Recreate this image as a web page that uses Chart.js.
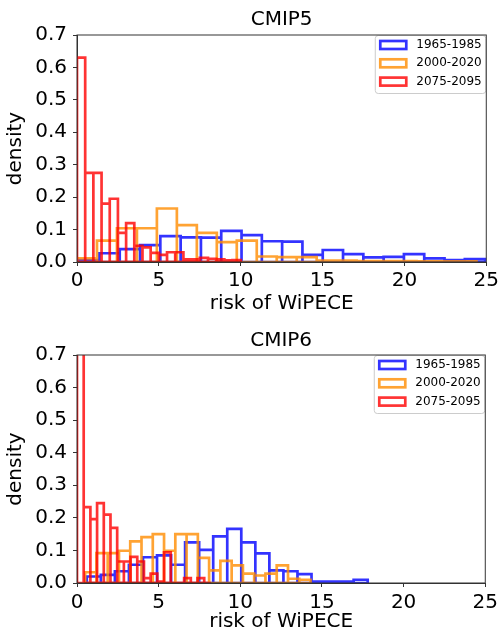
<!DOCTYPE html>
<html>
<head>
<meta charset="utf-8">
<script src="https://cdn.jsdelivr.net/npm/chart.js@4"></script>
<style>
  html, body { margin: 0; padding: 0; background: #fff; }
  .panel { width: 502px; height: 317px; }
  canvas { display: block; }
</style>
</head>
<body>
<div class="panel"><canvas id="cmip5" width="502" height="317"></canvas></div>
<div class="panel"><canvas id="cmip6" width="502" height="317"></canvas></div>
<script>
"use strict";

// periodos y colores de la leyenda
const periods = ['1965-1985', '2000-2020', '2075-2095'];
const colors = ['rgba(0, 0, 255, 0.8)', 'rgba(255, 140, 0, 0.8)', 'rgba(255, 0, 0, 0.8)'];
const xTicks = [0, 5, 10, 15, 20, 25];

// CMIP5 - bordes de bins y densidades
const cmip5BlueEdges = [0.13, 1.37, 2.61, 3.85, 5.09, 6.33, 7.57, 8.81, 10.05, 11.29, 12.53, 13.77, 15.01, 16.25, 17.49, 18.73, 19.97, 21.21, 22.45, 23.69, 24.93, 26.17];
const cmip5Blue = [0.006, 0.027, 0.04, 0.052, 0.08, 0.076, 0.075, 0.096, 0.083, 0.064, 0.063, 0.022, 0.037, 0.024, 0.014, 0.016, 0.024, 0.011, 0.006, 0.009, 0.009];
const cmip5OrangeEdges = [0, 1.22, 2.44, 3.66, 4.88, 6.1, 7.32, 8.54, 9.76, 10.98, 12.2, 13.42, 14.64, 15.86, 17.08, 18.3, 19.52, 20.74, 21.96, 23.18, 24.4];
const cmip5Orange = [0.011, 0.066, 0.104, 0.104, 0.165, 0.114, 0.09, 0.061, 0.066, 0.017, 0.015, 0.015, 0.004, 0.004, 0.003, 0.003, 0.003, 0.002, 0.002, 0.002];
const cmip5RedEdges = [0, 0.5, 1, 1.5, 2, 2.5, 3, 3.5, 4, 4.5, 5, 5.5, 6, 6.5, 7, 7.5, 8, 8.5, 9, 9.5, 10];
const cmip5Red = [0.63, 0.275, 0.275, 0.18, 0.195, 0.09, 0.12, 0.05, 0.045, 0.028, 0.022, 0.03, 0.03, 0.008, 0.008, 0.013, 0.01, 0.008, 0.005, 0.006];

// CMIP6
const cmip6BlueEdges = [0.6, 1.46, 2.32, 3.18, 4.04, 4.9, 5.76, 6.62, 7.48, 8.34, 9.2, 10.06, 10.92, 11.78, 12.64, 13.5, 14.36, 15.22, 16.08, 16.94, 17.8];
const cmip6Blue = [0.02, 0.025, 0.036, 0.056, 0.079, 0.085, 0.056, 0.125, 0.102, 0.143, 0.166, 0.125, 0.091, 0.039, 0.036, 0.027, 0.004, 0.004, 0.004, 0.01];
const cmip6OrangeEdges = [0.5, 1.19, 1.88, 2.57, 3.26, 3.95, 4.64, 5.33, 6.02, 6.71, 7.4, 8.09, 8.78, 9.47, 10.16, 10.85, 11.54, 12.23, 12.92, 13.61, 14.3];
const cmip6Orange = [0.033, 0.092, 0.092, 0.099, 0.128, 0.141, 0.15, 0.099, 0.15, 0.15, 0.077, 0.039, 0.068, 0.054, 0.029, 0.023, 0.029, 0.054, 0.013, 0.01];
const cmip6RedEdges = [0, 0.41, 0.82, 1.23, 1.64, 2.05, 2.46, 2.87, 3.28, 3.69, 4.1, 4.51, 4.92, 5.33, 5.74, 6.15, 6.56, 6.97, 7.38, 7.79, 8.2];
const cmip6Red = [0.9, 0.233, 0.196, 0.245, 0.21, 0.169, 0.066, 0.066, 0.08, 0.066, 0.015, 0.029, 0.004, 0.094, 0, 0, 0.015, 0, 0.015, 0];

Chart.defaults.font.family = "'DejaVu Sans', sans-serif";
Chart.defaults.color = '#000';
Chart.defaults.animation = false;

// contorno de histograma (barras sin relleno) como polilinea
function histPath(edges, dens) {
    const pts = [];
    for (let i = 0; i < dens.length; i++) {
        pts.push({ x: edges[i], y: 0 }, { x: edges[i], y: dens[i] },
                 { x: edges[i + 1], y: dens[i] }, { x: edges[i + 1], y: 0 });
    }
    pts.push({ x: edges[0], y: 0 });
    return pts;
}

// leyenda en recuadro + marco de ejes
const boxLegend = {
    id: 'boxLegend',
    afterDatasetsDraw(chart) {
        const { ctx, chartArea: a } = chart;
        const w = 111, h = 58;
        const left = a.right - w, top = a.top;
        ctx.save();
        ctx.beginPath();
        ctx.roundRect(left, top + 0.5, w - 0.5, h, 3);
        ctx.fillStyle = 'rgba(255,255,255,0.8)';
        ctx.fill();
        ctx.strokeStyle = '#cccccc';
        ctx.lineWidth = 1;
        ctx.stroke();
        chart.data.datasets.forEach((ds, i) => {
            const cy = top + 10 + i * 18.3;
            ctx.strokeStyle = ds.borderColor;
            ctx.lineWidth = 2.7;
            ctx.strokeRect(left + 5, cy - 4, 26, 8);
            ctx.fillStyle = '#000';
            ctx.font = "12px 'DejaVu Sans', sans-serif";
            ctx.textBaseline = 'middle';
            ctx.textAlign = 'left';
            ctx.fillText(ds.label, left + 41, cy);
        });
        ctx.strokeStyle = '#333';
        ctx.lineWidth = 1;
        ctx.strokeRect(a.left, a.top, a.right - a.left, a.bottom - a.top);
        ctx.restore();
    }
};

function buildConfig(title, sets, lay) {
    return {
        type: 'line',
        data: {
            datasets: sets.map((s, i) => ({
                label: periods[i],
                data: histPath(s.edges, s.dens),
                borderColor: colors[i],
                backgroundColor: 'transparent',
                borderWidth: 2.7,
                borderJoinStyle: 'miter',
                pointRadius: 0,
                tension: 0,
                fill: false,
                clip: 0,
                order: 3 - i
            }))
        },
        options: {
            responsive: false,
            devicePixelRatio: 1,
            events: [],
            layout: { padding: { left: 0, right: 13, top: 0, bottom: 0 } },
            plugins: {
                legend: { display: false },
                tooltip: { enabled: false },
                title: {
                    display: true, text: title, fullSize: false,
                    font: { size: 20, weight: 'normal' },
                    padding: lay.titlePad
                }
            },
            scales: {
                x: {
                    type: 'linear', min: 0, max: 25,
                    afterBuildTicks: (s) => { s.ticks = xTicks.map(v => ({ value: v })); },
                    afterFit: (s) => { s.height = lay.xHeight; },
                    grid: { drawOnChartArea: false, tickLength: 4, color: '#333' },
                    border: { display: true, color: '#333', width: 1 },
                    ticks: { font: { size: 20 }, padding: lay.tickPad, maxRotation: 0 },
                    title: { display: true, text: 'risk of WiPECE', font: { size: 20 }, padding: { top: 0, bottom: lay.xTitleBottom } }
                },
                y: {
                    min: 0, max: 0.7,
                    afterFit: (s) => { s.width = 77; },
                    grid: { drawOnChartArea: false, tickLength: 4, color: '#333' },
                    border: { display: true, color: '#333', width: 1 },
                    ticks: { stepSize: 0.1, font: { size: 20 }, padding: 6, callback: v => v.toFixed(1) },
                    title: { display: true, text: 'density', font: { size: 20 }, padding: { top: 4, bottom: 0 } }
                }
            }
        },
        plugins: [boxLegend]
    };
}

new Chart(document.getElementById('cmip5'), buildConfig('CMIP5', [
    { edges: cmip5BlueEdges, dens: cmip5Blue },
    { edges: cmip5OrangeEdges, dens: cmip5Orange },
    { edges: cmip5RedEdges, dens: cmip5Red }
], { titlePad: { top: 8, bottom: 3 }, xHeight: 55, xTitleBottom: 1, tickPad: 3 }));

new Chart(document.getElementById('cmip6'), buildConfig('CMIP6', [
    { edges: cmip6BlueEdges, dens: cmip6Blue },
    { edges: cmip6OrangeEdges, dens: cmip6Orange },
    { edges: cmip6RedEdges, dens: cmip6Red }
], { titlePad: { top: 12, bottom: 2 }, xHeight: 51, xTitleBottom: 0, tickPad: 4 }));
</script>
</body>
</html>
